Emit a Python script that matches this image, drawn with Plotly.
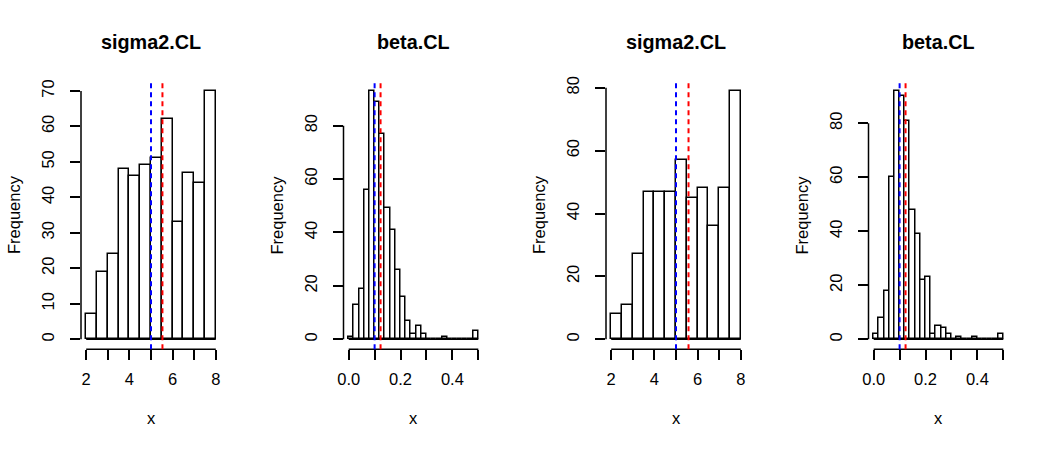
import plotly.graph_objects as go

# ---------------- data ----------------
panel_titles = ["sigma2.CL", "beta.CL", "sigma2.CL", "beta.CL"]

sigma_bin_left = [2.0, 2.5, 3.0, 3.5, 4.0, 4.5, 5.0, 5.5, 6.0, 6.5, 7.0, 7.5]
sigma_bin_width = 0.5
beta_bin_left = [0.00, 0.02, 0.04, 0.06, 0.08, 0.10, 0.12, 0.14, 0.16, 0.18,
                 0.20, 0.22, 0.24, 0.26, 0.28, 0.30, 0.32, 0.34, 0.36, 0.38,
                 0.40, 0.42, 0.44, 0.46, 0.48]
beta_bin_width = 0.02

sigma_counts_1 = [7, 19, 24, 48, 46, 49, 51, 62, 33, 47, 44, 70]
beta_counts_1 = [1, 13, 19, 56, 93, 89, 77, 49, 41, 26, 16, 7, 2, 5, 2,
                 0, 0, 0, 1, 0, 0, 0, 0, 0, 3]
sigma_counts_2 = [8, 11, 27, 47, 47, 47, 57, 45, 48, 36, 48, 79]
beta_counts_2 = [2, 8, 18, 60, 92, 90, 81, 48, 39, 22, 23, 2, 5, 4, 2,
                 0, 1, 0, 0, 1, 0, 0, 0, 0, 2]

blue_lines = [5.0, 0.10, 5.0, 0.10]
red_lines = [5.53, 0.123, 5.58, 0.123]

sigma_xticks = [2, 3, 4, 5, 6, 7, 8]
sigma_xlabels = ["2", "", "4", "", "6", "", "8"]
beta_xticks = [0.0, 0.1, 0.2, 0.3, 0.4, 0.5]
beta_xlabels = ["0.0", "", "0.2", "", "0.4", ""]
yticks_1 = [0, 10, 20, 30, 40, 50, 60, 70]
yticks_2 = [0, 20, 40, 60, 80]

panels = [
    (sigma_bin_left, sigma_bin_width, sigma_counts_1, sigma_xticks, sigma_xlabels, yticks_1),
    (beta_bin_left, beta_bin_width, beta_counts_1, beta_xticks, beta_xlabels, yticks_2),
    (sigma_bin_left, sigma_bin_width, sigma_counts_2, sigma_xticks, sigma_xlabels, yticks_2),
    (beta_bin_left, beta_bin_width, beta_counts_2, beta_xticks, beta_xlabels, yticks_2),
]

# ---------------- layout geometry (pixels) ----------------
W, H = 1050, 450
panel_w = W / 4
mar_left, mar_right, mar_top, mar_bottom = 81, 41.5, 81, 100.8
FONT = "Liberation Sans, Arial, Helvetica, sans-serif"
BASE = 16.5
LW = 1.5

fig = go.Figure()
shapes = []
annotations = []

for i, (left, bw, counts, xt, xl, yt) in enumerate(panels):
    n = i + 1
    xa = "x" if n == 1 else f"x{n}"
    ya = "y" if n == 1 else f"y{n}"
    centers = [l + bw / 2 for l in left]
    fig.add_trace(go.Bar(
        x=centers, y=counts, width=[bw] * len(counts),
        marker=dict(color="white", line=dict(color="black", width=LW)),
        xaxis=xa, yaxis=ya, showlegend=False, hoverinfo="x+y",
    ))

    x_lo, x_hi = left[0], left[-1] + bw
    xpad = (x_hi - x_lo) * 0.04
    ymax = max(counts)
    ypad = ymax * 0.04

    px0 = i * panel_w + mar_left
    px1 = (i + 1) * panel_w - mar_right
    dom_x = [px0 / W, px1 / W]
    dom_y = [mar_bottom / H, (H - mar_top) / H]

    axis_common = dict(
        showgrid=False, zeroline=False, showline=False, automargin=False,
        ticks="outside", ticklen=10, tickwidth=LW, tickcolor="black",
        tickfont=dict(family=FONT, size=BASE, color="black"),
        fixedrange=True,
    )
    fig.update_layout({
        ("xaxis" if n == 1 else f"xaxis{n}"): dict(
            axis_common, domain=dom_x, anchor=ya,
            range=[x_lo - xpad, x_hi + xpad],
            tickmode="array", tickvals=xt, ticktext=xl,
            ticklabelstandoff=5,
        ),
        ("yaxis" if n == 1 else f"yaxis{n}"): dict(
            axis_common, domain=dom_y, anchor=xa,
            range=[-ypad, ymax + ypad],
            tickmode="array", tickvals=yt, ticktext=[str(v) for v in yt],
            tickangle=-90, ticklabelstandoff=9,
        ),
    })

    # axis lines (R style: only between first and last tick)
    shapes.append(dict(type="line", xref=xa, yref="paper",
                       x0=xt[0], x1=xt[-1], y0=dom_y[0], y1=dom_y[0],
                       line=dict(color="black", width=LW)))
    shapes.append(dict(type="line", xref="paper", yref=ya,
                       x0=dom_x[0], x1=dom_x[0], y0=yt[0], y1=yt[-1],
                       line=dict(color="black", width=LW)))
    # baseline of histogram (covers zero-count bins)
    shapes.append(dict(type="line", xref=xa, yref=ya,
                       x0=x_lo, x1=x_hi, y0=0, y1=0,
                       line=dict(color="black", width=LW)))
    # dashed reference lines
    shapes.append(dict(type="line", xref=xa, yref="paper",
                       x0=blue_lines[i], x1=blue_lines[i], y0=dom_y[0], y1=dom_y[1],
                       line=dict(color="#0000FF", width=2, dash="5px,4px")))
    shapes.append(dict(type="line", xref=xa, yref="paper",
                       x0=red_lines[i], x1=red_lines[i], y0=dom_y[0], y1=dom_y[1],
                       line=dict(color="#FF0000", width=2, dash="5px,4px")))

    cx = (px0 + px1) / 2 / W
    annotations.append(dict(text="<b>" + panel_titles[i] + "</b>", xref="paper", yref="paper",
                            x=cx, y=1 - 42 / H, xanchor="center", yanchor="middle",
                            showarrow=False, font=dict(family=FONT, size=19.8, color="black")))
    annotations.append(dict(text="x", xref="paper", yref="paper",
                            x=cx, y=1 - 418 / H, xanchor="center", yanchor="middle",
                            showarrow=False, font=dict(family=FONT, size=BASE, color="black")))
    annotations.append(dict(text="Frequency", xref="paper", yref="paper",
                            x=(px0 - 67) / W, y=1 - 215 / H, xanchor="center", yanchor="middle",
                            textangle=-90,
                            showarrow=False, font=dict(family=FONT, size=BASE, color="black")))

fig.update_layout(
    template="none",
    width=W, height=H,
    margin=dict(l=0, r=0, t=0, b=0, pad=0, autoexpand=False),
    paper_bgcolor="white", plot_bgcolor="white",
    shapes=shapes, annotations=annotations,
    bargap=0, showlegend=False,
)

fig.write_html("out.html", config={"displayModeBar": False})
